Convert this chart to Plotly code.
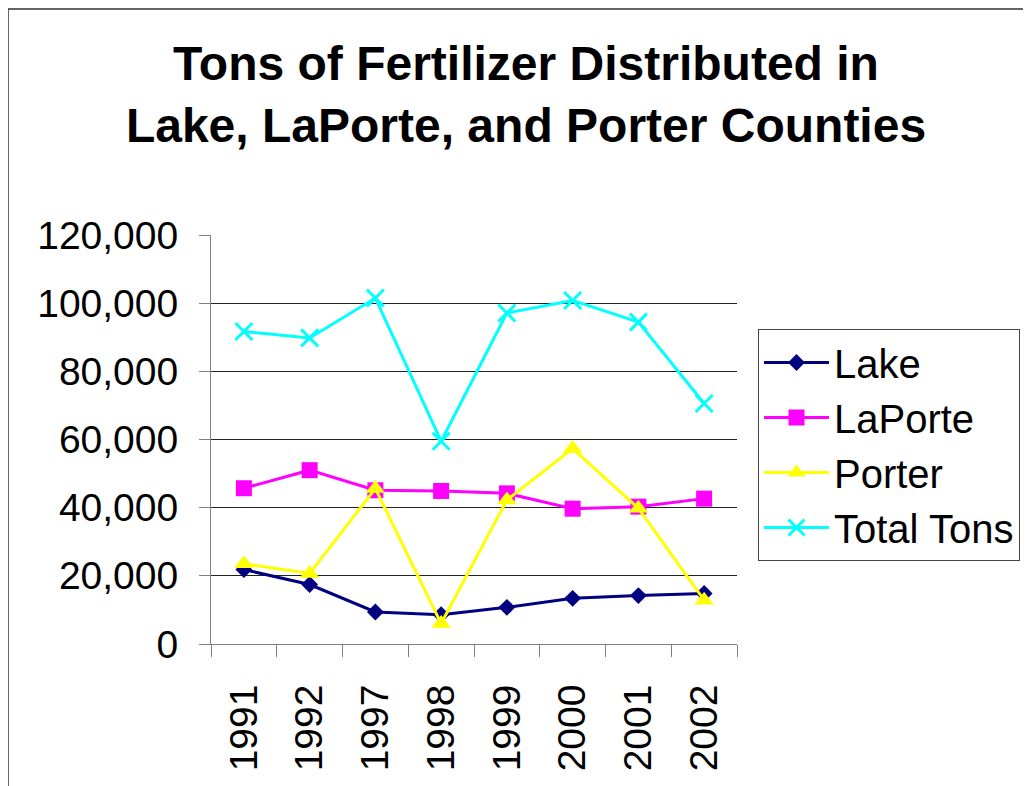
import plotly.graph_objects as go

years = ["1991", "1992", "1997", "1998", "1999", "2000", "2001", "2002"]
lake = [21850, 17450, 9400, 8600, 10750, 13400, 14200, 14800]
laporte = [45700, 51000, 45100, 44900, 44200, 39700, 40300, 42650]
porter = [23550, 20700, 45600, 6000, 42250, 57350, 39800, 12850]
total = [91700, 89800, 101500, 59500, 97100, 100800, 94450, 70550]
y_ticks = [0, 20000, 40000, 60000, 80000, 100000, 120000]

FONT = "Liberation Sans, Arial, sans-serif"
OFF = 8  # browser body margin
W, H = 1031 - OFF, 786 - OFF
# plot area in screen pixels: x 211..737, y 235..644
L = 211 - OFF
T = 235 - OFF
R = W - (737 - OFF)
B = H - (644 - OFF)
pw, ph = W - L - R, H - T - B


def px_x(p):
    return (p - 211) / pw


def px_y(p):
    return (644 - p) / ph


fig = go.Figure()
fig.add_trace(go.Scatter(x=years, y=lake, name="Lake", mode="lines+markers",
                         line=dict(color="#000080", width=3),
                         marker=dict(symbol="diamond", size=13, color="#000080")))
fig.add_trace(go.Scatter(x=years, y=laporte, name="LaPorte", mode="lines+markers",
                         line=dict(color="#FF00FF", width=3),
                         marker=dict(symbol="square", size=16, color="#FF00FF")))
fig.add_trace(go.Scatter(x=years, y=porter, name="Porter", mode="lines+markers",
                         line=dict(color="#FFFF00", width=3),
                         marker=dict(symbol="triangle-up", size=17, color="#FFFF00")))
fig.add_trace(go.Scatter(x=years, y=total, name="Total Tons", mode="lines+markers",
                         line=dict(color="#00FFFF", width=3),
                         marker=dict(symbol="x-thin", size=17, color="#00FFFF",
                                     line=dict(color="#00FFFF", width=3))))

fig.update_layout(
    width=W, height=H,
    margin=dict(l=L, r=R, t=T, b=B, pad=0, autoexpand=False),
    paper_bgcolor="white", plot_bgcolor="white",
    font=dict(family=FONT, size=39, color="black"),
    title=dict(text="<b>Tons of Fertilizer Distributed in<br>Lake, LaPorte, and Porter Counties</b>",
               x=(526 - OFF) / W, xanchor="center", xref="container",
               y=1 - 72 / H, yanchor="top", yref="container",
               font=dict(family=FONT, size=48, color="black")),
    showlegend=True,
    legend=dict(x=px_x(758), xanchor="left", y=px_y(329), yanchor="top",
                xref="paper", yref="paper", traceorder="normal",
                bordercolor="#444444", borderwidth=1, bgcolor="white",
                font=dict(family=FONT, size=40, color="black"),
                itemwidth=65),
    xaxis=dict(type="category", range=[-0.5, len(years) - 0.5], tickson="boundaries",
               ticks="outside", ticklen=12,
               tickcolor="#808080", tickwidth=1, showline=True, linecolor="#808080",
               linewidth=1, showgrid=False, tickangle=-90, ticklabelstandoff=24,
               tickfont=dict(family=FONT, size=39, color="black")),
    yaxis=dict(range=[0, 120000], tickvals=y_ticks, tickformat=",", ticks="outside",
               ticklen=11, tickcolor="#808080", showline=True, linecolor="#808080",
               linewidth=1, showgrid=True, gridcolor="#222222", gridwidth=1,
               zeroline=False, ticklabelstandoff=13,
               tickfont=dict(family=FONT, size=39, color="black")),
    shapes=[dict(type="rect", xref="paper", yref="paper",
                 x0=px_x(8), x1=px_x(1045), y0=px_y(800), y1=px_y(9),
                 line=dict(color="#333333", width=1.5), fillcolor="rgba(0,0,0,0)", layer="below")],
)

fig.write_html("out.html")
